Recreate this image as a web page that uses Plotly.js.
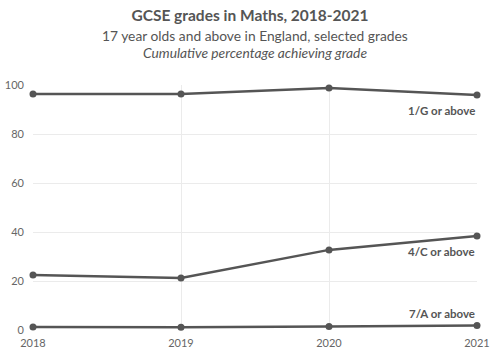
<!DOCTYPE html>
<html><head><meta charset="utf-8">
<script src="https://cdn.plot.ly/plotly-3.0.1.min.js"></script>
<style>html,body{margin:0;padding:0;background:#fff}#c{width:500px;height:357px}</style>
</head><body><div id="c"></div>
<script>
const years = [2018, 2019, 2020, 2021];
const gradeG = [96.3, 96.3, 98.8, 95.9];
const gradeC = [22.4, 21.2, 32.7, 38.4];
const gradeA = [1.2, 1.1, 1.4, 1.8];
const seriesNames = ["1/G or above", "4/C or above", "7/A or above"];
const labelY = [89.5, 32.2, 6.6];

const col = '#555555';
const mk = (y, name) => ({x: years, y: y, name: name, type: 'scatter', mode: 'lines+markers',
  line: {color: col, width: 2.5}, marker: {color: col, size: 7}, cliponaxis: false, hoverinfo: 'x+y'});
const data = [mk(gradeG, seriesNames[0]), mk(gradeC, seriesNames[1]), mk(gradeA, seriesNames[2])];

const annotations = seriesNames.map((n, i) => ({
  x: 2021, y: labelY[i], xref: 'x', yref: 'y', text: '<b>' + n + '</b>', showarrow: false,
  xanchor: 'right', yanchor: 'middle', font: {family: 'Lato', size: 11.5, color: col}
}));
annotations.push({xref: 'paper', yref: 'paper', x: 0.5, y: 1.245, xanchor: 'center', yanchor: 'top',
  showarrow: false, text: '17 year olds and above in England, selected grades',
  font: {family: 'Lato', size: 13.8, color: col}});
annotations.push({xref: 'paper', yref: 'paper', x: 0.5, y: 1.175, xanchor: 'center', yanchor: 'top',
  showarrow: false, text: '<i>Cumulative percentage achieving grade</i>',
  font: {family: 'Lato', size: 13.8, color: col}});

const layout = {
  width: 500, height: 357,
  margin: {l: 33, r: 23, t: 85, b: 27},
  paper_bgcolor: '#fff', plot_bgcolor: '#fff',
  showlegend: false,
  font: {family: 'Lato', color: '#666'},
  title: {text: '<b>GCSE grades in Maths, 2018-2021</b>', x: 0.5, xanchor: 'center', y: 0.972, yanchor: 'top',
    font: {family: 'Lato', size: 15.5, color: col}},
  xaxis: {range: [2018, 2021], tickvals: years, ticktext: years.map(String), showgrid: true, gridcolor: '#ebebeb',
    zeroline: false, showline: false, ticks: '', ticklabelstandoff: 5,
    tickfont: {family: 'Lato', size: 11, color: '#666'}, fixedrange: true},
  yaxis: {range: [0, 100], dtick: 20, showgrid: true, gridcolor: '#ebebeb', zeroline: false, showline: false,
    ticks: '', ticklabelstandoff: 8, tickfont: {family: 'Lato', size: 11, color: '#666'}, fixedrange: true},
  annotations: annotations
};
Plotly.newPlot('c', data, layout, {displayModeBar: false, staticPlot: true});
</script></body></html>
